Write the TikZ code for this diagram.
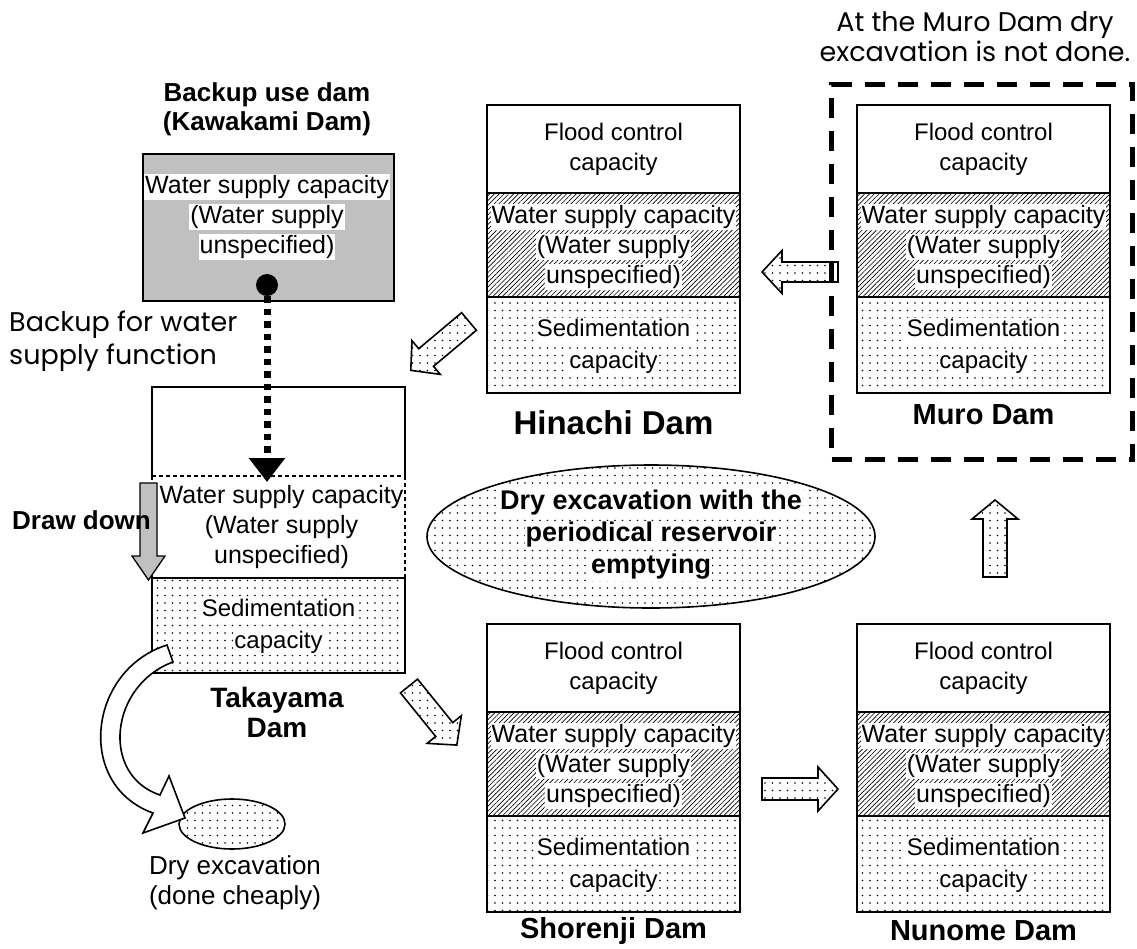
\documentclass[tikz,border=0pt]{standalone}
\usepackage{fontspec}
\setmainfont{Liberation Sans}
\newfontfamily\roundfont{Poppins}
\usetikzlibrary{patterns.meta,arrows.meta,shapes.geometric}
\setlength{\fboxsep}{1pt}
\newcommand{\wbx}[1]{\colorbox{white}{\vphantom{(Ay}#1}}
\definecolor{boxgray}{HTML}{C0C0C0}
\tikzset{
 dotfill/.style={pattern={Dots[radius=0.85pt,distance=7.5pt]}},
 hatchfill/.style={pattern={Lines[angle=45,distance=3.4pt,line width=0.65pt]}},
 damline/.style={line width=1.6pt},
 region/.style={draw, damline, minimum width=253pt, anchor=north west, inner sep=0pt, outer sep=0pt},
 floodbox/.style={region, fill=white, minimum height=88pt},
 waterbox/.style={region, hatchfill, minimum height=104pt},
 sedbox/.style={region, dotfill, minimum height=96pt},
 txt/.style={align=center, inner sep=0pt, font=\fontsize{24pt}{30pt}\selectfont},
 wtxt/.style={align=center, inner sep=0pt, font=\fontsize{25pt}{30pt}\selectfont},
 sedtxt/.style={align=center, inner sep=0pt, font=\fontsize{24pt}{32pt}\selectfont},
 lbl/.style={align=center, inner sep=0pt, font=\bfseries\fontsize{29pt}{31pt}\selectfont},
 blockarrow/.style={draw, line width=1.6pt, dotfill, line join=miter},
 thindash/.style={line width=1.3pt, dash pattern=on 4pt off 3pt},
}
% #1 prefix, #2 x, #3 y, #4 label, #5 label offset, #6 label font size
\newcommand{\damstack}[6]{%
 \node[floodbox] (#1F) at (#2,#3) {};
 \node[txt] at (#1F.center) {Flood control\\capacity};
 \node[waterbox] (#1W) at (#1F.south west) {};
 \node[wtxt] at ([yshift=-2pt]#1W.center) {\wbx{Water supply capacity}\\\wbx{(Water supply}\\\wbx{unspecified)}};
 \node[sedbox] (#1S) at (#1W.south west) {};
 \node[sedtxt] at ([yshift=-1pt]#1S.center) {\wbx{Sedimentation}\\\wbx{capacity}};
 \node[lbl, font=\bfseries\fontsize{#6}{#6}\selectfont] (#1L) at ([yshift=#5]#1S.south) {#4};
}
% #1 tail point, #2 angle, #3 length, #4 shaft half width, #5 head half width, #6 head length
\newcommand{\blockarr}[7]{%
 \begin{scope}[shift={#1}, rotate=#2]
 \draw[#7] (0,-#4) -- (#3-#6,-#4) -- (#3-#6,-#5) -- (#3,0) -- (#3-#6,#5) -- (#3-#6,#4) -- (0,#4) -- cycle;
 \end{scope}
}
\begin{document}
\begin{tikzpicture}[x=1pt,y=-1pt, font=\fontsize{24pt}{30pt}\selectfont]
\useasboundingbox (0,0) rectangle (1137,948);

% Kawakami (backup) dam
\node[font=\bfseries\fontsize{26pt}{29pt}\selectfont, align=center, inner sep=0pt] (kawaT) at (267,109) {Backup use dam\\(Kawakami Dam)};
\node[draw, damline, fill=boxgray, minimum width=251pt, minimum height=147pt, anchor=north west, inner sep=0pt] (kawa) at (142,153) {};
\node[wtxt] (kawaTxt) at (267,217) {\wbx{Water supply capacity}\\\wbx{(Water supply}\\\wbx{unspecified)}};

% Takayama dam
\node[minimum width=253pt, minimum height=89pt, anchor=north west, inner sep=0pt, outer sep=0pt] (takF) at (152,387) {};
\draw[damline] (takF.south west) -- (takF.north west) -- (takF.north east) -- (takF.south east);
\draw[thindash] (takF.south west) -- (takF.south east);
\node[minimum width=253pt, minimum height=102pt, anchor=north west, inner sep=0pt, outer sep=0pt] (takW) at (takF.south west) {};
\draw[thindash] (takW.north west) -- (takW.south west) (takW.north east) -- (takW.south east);
\node[wtxt] at ([xshift=3pt]takW.center) {Water supply capacity\\(Water supply\\unspecified)};
\node[region, dotfill, minimum height=95pt] (takS) at (takW.south west) {};
\node[sedtxt] at ([yshift=-1pt]takS.center) {\wbx{Sedimentation}\\\wbx{capacity}};
\node[lbl, font=\bfseries\fontsize{28pt}{30pt}\selectfont] (takL) at (277,712) {Takayama\\Dam};

% backup connector
\node[circle, fill=black, minimum size=22pt, inner sep=0pt] (kdot) at (267,285) {};
\coordinate (backupend) at (267,482);
\draw[line width=7pt, dash pattern=on 6.5pt off 6pt, -{Triangle[width=35pt,length=24pt]}] (kdot.south) -- (backupend);

% draw down arrow
\blockarr{(148.5,483)}{-90}{97}{8.5}{16.5}{24}{draw, line width=1.3pt, fill=boxgray, line join=miter}
\node[font=\bfseries\fontsize{26pt}{30pt}\selectfont, anchor=west, inner sep=0pt] (drawdown) at (12,520) {Draw down};
\node[font=\roundfont\fontsize{27pt}{33pt}\selectfont, align=left, anchor=west, inner sep=0pt] (backupTxt) at (9,341) {Backup for water\\supply function};

% dry excavation ellipse and curved arrow
\node[ellipse, draw, damline, dotfill, minimum width=106pt, minimum height=50pt, inner sep=0pt] (dryell) at (232,824) {};
\draw[line width=1.6pt, fill=white, line join=miter] (167,645) .. controls (88,670) and (75,785) .. (153,813) -- (143,833) -- (185,818) -- (169,776) -- (160,795) .. controls (100,775) and (110,685) .. (173,662) -- cycle;
\node[align=center, inner sep=0pt, font=\fontsize{26pt}{30pt}\selectfont] (dryTxt) at (235,883) {Dry excavation\\(done cheaply)};

% other dams
\damstack{hin}{487}{105}{Hinachi Dam}{-30pt}{33pt}
\damstack{muro}{857}{105}{Muro Dam}{-22pt}{29pt}
\damstack{sho}{487}{624}{Shorenji Dam}{-19pt}{29pt}
\damstack{nun}{857}{624}{Nunome Dam}{-19pt}{29pt}

% Muro frame
\node[draw, line width=5pt, dash pattern=on 20pt off 13pt, minimum width=301pt, minimum height=375pt, anchor=north west, inner sep=0pt] (muroframe) at (829,82) {};
\node[font=\roundfont\fontsize{27pt}{30pt}\selectfont, align=center, inner sep=0pt] (muroNote) at (975,37) {At the Muro Dam dry\\excavation is not done.};

% central ellipse
\node[ellipse, draw, damline, dotfill, minimum width=448pt, minimum height=143pt, inner sep=0pt] (bigell) at (651,536.5) {};
\node[align=center, inner sep=0pt, font=\bfseries\fontsize{27pt}{32pt}\selectfont] (bigTxt) at (651,535) {\wbx{Dry excavation with the}\\\wbx{periodical reservoir}\\\wbx{emptying}};

% block arrows
\blockarr{(838,272)}{180}{76}{10}{21.5}{20}{blockarrow}
\blockarr{(469,321.5)}{220}{76}{11.5}{22}{20}{blockarrow}
\blockarr{(409,686)}{-51}{76}{11}{22}{20}{blockarrow}
\blockarr{(762,789)}{0}{76}{11}{22}{20}{blockarrow}
\blockarr{(995,577)}{90}{77}{12}{23}{19}{blockarrow}
\end{tikzpicture}
\end{document}
